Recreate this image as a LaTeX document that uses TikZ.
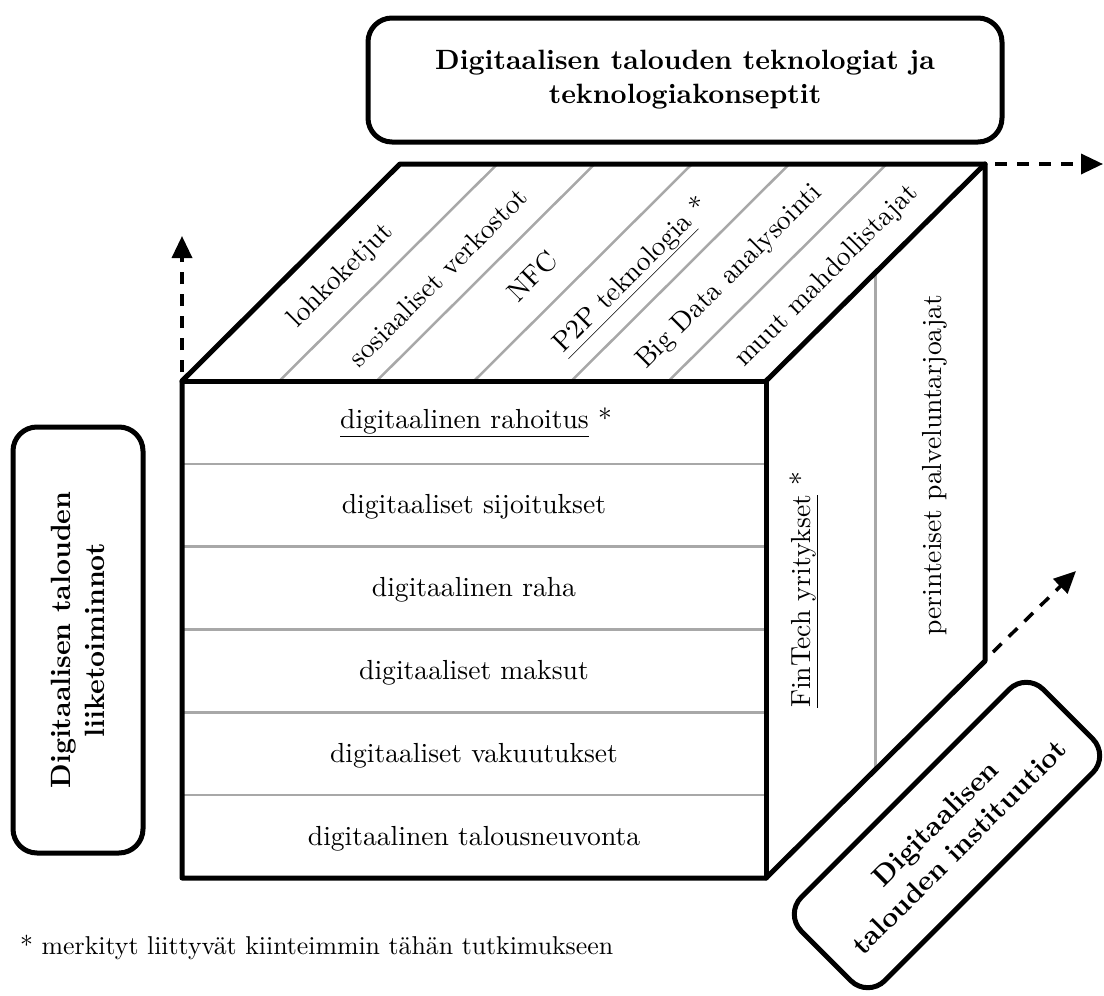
\documentclass[tikz,border=0pt]{standalone}
\usepackage{fontspec}
\setmainfont{lmroman10-regular.otf}[BoldFont=lmroman10-bold.otf,ItalicFont=lmroman10-italic.otf]
\usetikzlibrary{arrows.meta}
\definecolor{divgray}{RGB}{168,168,168}
\newcommand\fsReg{\fontsize{27.6}{33}\selectfont}
\newcommand\fsBold{\fontsize{27.9}{34}\selectfont\bfseries}
\newcommand\fsNote{\fontsize{25.8}{30}\selectfont}
\begin{document}
\begin{tikzpicture}[x=1pt,y=-1pt,
  edge/.style={line width=5pt,line join=round,line cap=round},
  divider/.style={line width=2.5pt,divgray},
  labelbox/.style={draw,line width=5pt,rounded corners=24pt,align=center,font=\fsBold,inner sep=0pt},
  cell/.style={font=\fsReg,inner sep=0pt},
  axisarrow/.style={line width=3.5pt,dash pattern=on 12pt off 10pt,-{Triangle[length=22pt,width=20pt]}}]
\useasboundingbox (0,0) rectangle (1104,996);
% cube corners
\coordinate (ftl) at (182,381);
\coordinate (ftr) at (766,381);
\coordinate (fbl) at (182,878);
\coordinate (fbr) at (766,878);
\coordinate (btl) at (400,164);
\coordinate (btr) at (985,164);
\coordinate (bbr) at (985,661);
% dividers
\foreach \i in {1,...,5} {
  \draw[divider] (182,{381+\i*82.83}) -- (766,{381+\i*82.83});
  \draw[divider] ({182+\i*97.33},381) -- ({400+\i*97.33},164);
}
\coordinate (rtm) at (875.5,272);
\coordinate (rbm) at (875.5,769);
\draw[divider] (rtm) -- (rbm);
% outline
\draw[edge] (fbl) -- (ftl) -- (btl) -- (btr) -- (bbr) -- (fbr) -- cycle;
\draw[edge] (ftl) -- (ftr) -- (fbr);
\draw[edge] (ftr) -- (btr);
% front face labels
\node[cell] (f1) at (476,422.4) {\underline{digitaalinen rahoitus} *};
\node[cell] (f2) at (474,507) {digitaaliset sijoitukset};
\node[cell] (f3) at (474,590) {digitaalinen raha};
\node[cell] (f4) at (474,673) {digitaaliset maksut};
\node[cell] (f5) at (474,756) {digitaaliset vakuutukset};
\node[cell] (f6) at (474,839) {digitaalinen talousneuvonta};
% top face labels
\node[cell,rotate=45] (t1) at (341,276) {lohkoketjut};
\node[cell,rotate=45] (t2) at (438,277) {sosiaaliset verkostot};
\node[cell,rotate=45] (t3) at (532,276) {NFC};
\node[cell,rotate=45] (t4) at (632,276) {\underline{P2P teknologia} *};
\node[cell,rotate=45] (t5) at (729.5,277) {Big Data analysointi};
\node[cell,rotate=45] (t6) at (827,276) {muut mahdollistajat};
% right face labels
\node[cell,rotate=90] (r1) at (804,590) {\underline{FinTech yritykset} *};
\node[cell,rotate=90] (r2) at (935,465) {perinteiset palveluntarjoajat};
% axis boxes
\node[labelbox,minimum width=634pt,minimum height=124pt] (top) at (685,80)
  {Digitaalisen talouden teknologiat ja\\teknologiakonseptit};
\node[labelbox,rotate=90,minimum width=426pt,minimum height=130pt] (left) at (78,640)
  {Digitaalisen talouden\\liiketoiminnot};
\node[labelbox,rotate=45,minimum width=342pt,minimum height=118pt] (inst) at (947,835)
  {Digitaalisen\\talouden instituutiot};
% axis arrows
\coordinate (a1s) at (182,372);
\coordinate (a1e) at (182,236);
\coordinate (a2s) at (995,164);
\coordinate (a2e) at (1103,164);
\coordinate (a3s) at (993,652);
\coordinate (a3e) at (1076,571);
\draw[axisarrow] (a1s) -- (a1e);
\draw[axisarrow] (a2s) -- (a2e);
\draw[axisarrow] (a3s) -- (a3e);
% footnote
\node[font=\fsNote,anchor=west,inner sep=0pt] (note) at (20,947)
  {* merkityt liittyvät kiinteimmin tähän tutkimukseen};
\end{tikzpicture}
\end{document}
